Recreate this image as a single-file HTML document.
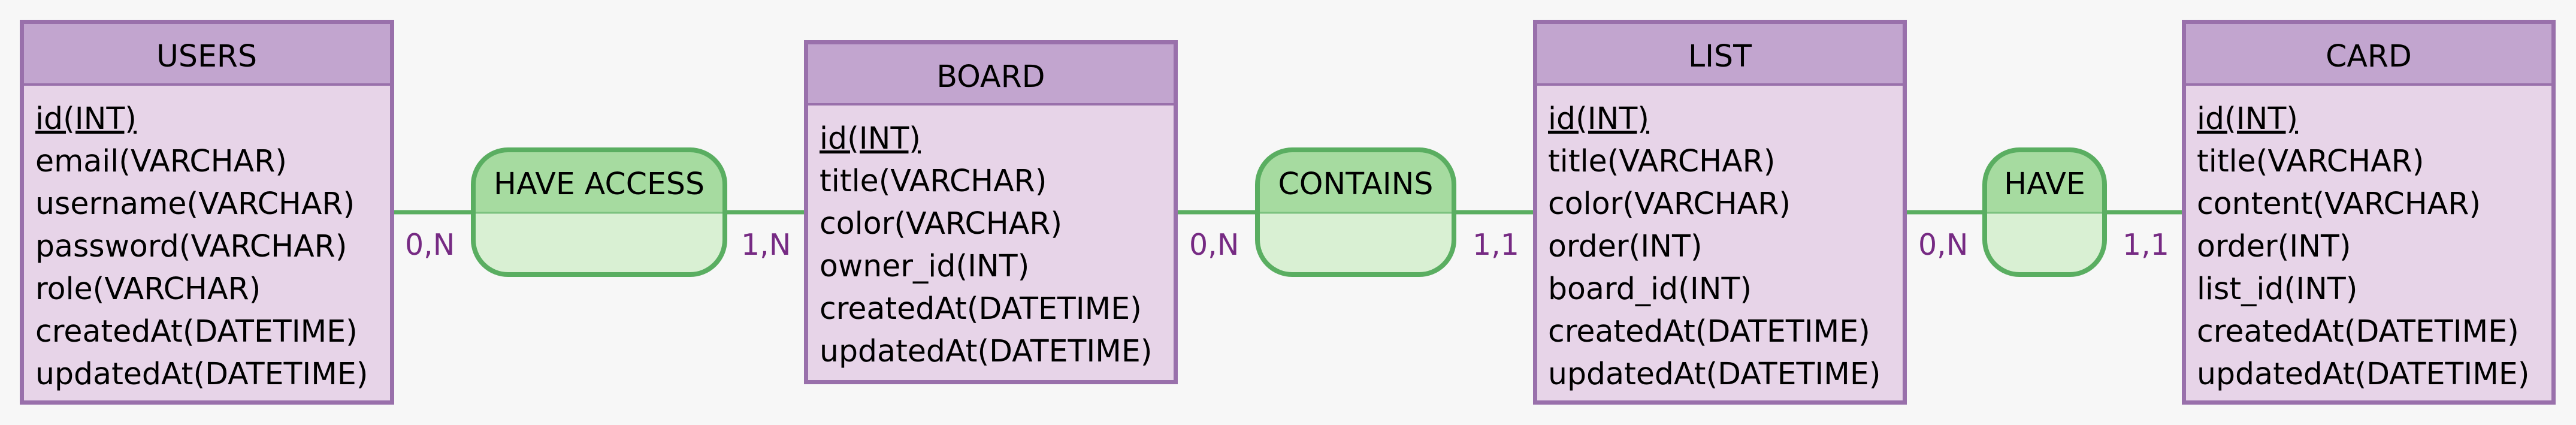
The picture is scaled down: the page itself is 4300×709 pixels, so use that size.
<!DOCTYPE html>
<html><head><meta charset="utf-8"><style>
html,body{margin:0;padding:0;background:#f7f7f7;}
svg{display:block;}
text{font-family:"DejaVu Sans","Liberation Sans",sans-serif;}
</style></head><body>
<svg width="4300" height="709" viewBox="0 0 4300 709" xmlns="http://www.w3.org/2000/svg">
<rect width="4300" height="709" fill="#f7f7f7"/>
<g stroke="#5aae61" stroke-width="7">
<line x1="658" y1="354" x2="790" y2="354"/><line x1="1210" y1="354" x2="1342" y2="354"/>
<line x1="1966" y1="354" x2="2099" y2="354"/><line x1="2427" y1="354" x2="2559" y2="354"/>
<line x1="3183" y1="354" x2="3313" y2="354"/><line x1="3513" y1="354" x2="3642" y2="354"/>
</g>
<g font-size="49" fill="#762a83">
<text x="676" y="425">0,N</text><text x="1237" y="425">1,N</text>
<text x="1985" y="425">0,N</text><text x="2458" y="425">1,1</text>
<text x="3202" y="425">0,N</text><text x="3543" y="425">1,1</text>
</g>
<defs>
<clipPath id="c1"><rect x="790" y="250" width="420" height="208" rx="58"/></clipPath>
<clipPath id="c2"><rect x="2099" y="250" width="328" height="208" rx="58"/></clipPath>
<clipPath id="c3"><rect x="3313" y="250" width="200" height="208" rx="58"/></clipPath>
</defs>
<g>
<g clip-path="url(#c1)"><rect x="780" y="240" width="440" height="115" fill="#a6dba0"/><rect x="780" y="355" width="440" height="110" fill="#d9f0d3"/></g>
<line x1="790" y1="355" x2="1210" y2="355" stroke="#7cc27f" stroke-width="3"/>
<rect x="790" y="250" width="420" height="208" rx="58" fill="none" stroke="#5aae61" stroke-width="8"/>
<text x="1000" y="324" font-size="50.5" text-anchor="middle">HAVE ACCESS</text>
</g>
<g>
<g clip-path="url(#c2)"><rect x="2090" y="240" width="350" height="115" fill="#a6dba0"/><rect x="2090" y="355" width="350" height="110" fill="#d9f0d3"/></g>
<line x1="2099" y1="355" x2="2427" y2="355" stroke="#7cc27f" stroke-width="3"/>
<rect x="2099" y="250" width="328" height="208" rx="58" fill="none" stroke="#5aae61" stroke-width="8"/>
<text x="2263" y="324" font-size="50.5" text-anchor="middle">CONTAINS</text>
</g>
<g>
<g clip-path="url(#c3)"><rect x="3300" y="240" width="220" height="115" fill="#a6dba0"/><rect x="3300" y="355" width="220" height="110" fill="#d9f0d3"/></g>
<line x1="3313" y1="355" x2="3513" y2="355" stroke="#7cc27f" stroke-width="3"/>
<rect x="3313" y="250" width="200" height="208" rx="58" fill="none" stroke="#5aae61" stroke-width="8"/>
<text x="3413" y="324" font-size="50.5" text-anchor="middle">HAVE</text>
</g>
<g font-size="50.5">
<rect x="36.5" y="36.5" width="618" height="635" fill="#e7d4e8"/>
<rect x="36.5" y="36.5" width="618" height="104" fill="#c2a5cf"/>
<line x1="36" y1="141" x2="655" y2="141" stroke="#9970ab" stroke-width="4"/>
<rect x="36.5" y="36.5" width="618" height="635" fill="none" stroke="#9970ab" stroke-width="7"/>
<text x="345" y="111" text-anchor="middle">USERS</text>
<text x="59" y="215" text-decoration="underline">id(INT)</text>
<text x="59" y="286">email(VARCHAR)</text>
<text x="59" y="357">username(VARCHAR)</text>
<text x="59" y="428">password(VARCHAR)</text>
<text x="59" y="499">role(VARCHAR)</text>
<text x="59" y="570">createdAt(DATETIME)</text>
<text x="59" y="641">updatedAt(DATETIME)</text>
</g>
<g font-size="50.5">
<rect x="1345.5" y="70.5" width="617" height="567" fill="#e7d4e8"/>
<rect x="1345.5" y="70.5" width="617" height="104" fill="#c2a5cf"/>
<line x1="1345" y1="174" x2="1963" y2="174" stroke="#9970ab" stroke-width="4"/>
<rect x="1345.5" y="70.5" width="617" height="567" fill="none" stroke="#9970ab" stroke-width="7"/>
<text x="1654" y="145" text-anchor="middle">BOARD</text>
<text x="1368" y="248" text-decoration="underline">id(INT)</text>
<text x="1368" y="319">title(VARCHAR)</text>
<text x="1368" y="390">color(VARCHAR)</text>
<text x="1368" y="461">owner_id(INT)</text>
<text x="1368" y="532">createdAt(DATETIME)</text>
<text x="1368" y="603">updatedAt(DATETIME)</text>
</g>
<g font-size="50.5">
<rect x="2562.5" y="36.5" width="617" height="635" fill="#e7d4e8"/>
<rect x="2562.5" y="36.5" width="617" height="104" fill="#c2a5cf"/>
<line x1="2562" y1="141" x2="3180" y2="141" stroke="#9970ab" stroke-width="4"/>
<rect x="2562.5" y="36.5" width="617" height="635" fill="none" stroke="#9970ab" stroke-width="7"/>
<text x="2871" y="111" text-anchor="middle">LIST</text>
<text x="2584" y="215" text-decoration="underline">id(INT)</text>
<text x="2584" y="286">title(VARCHAR)</text>
<text x="2584" y="357">color(VARCHAR)</text>
<text x="2584" y="428">order(INT)</text>
<text x="2584" y="499">board_id(INT)</text>
<text x="2584" y="570">createdAt(DATETIME)</text>
<text x="2584" y="641">updatedAt(DATETIME)</text>
</g>
<g font-size="50.5">
<rect x="3645.5" y="36.5" width="617" height="635" fill="#e7d4e8"/>
<rect x="3645.5" y="36.5" width="617" height="104" fill="#c2a5cf"/>
<line x1="3645" y1="141" x2="4263" y2="141" stroke="#9970ab" stroke-width="4"/>
<rect x="3645.5" y="36.5" width="617" height="635" fill="none" stroke="#9970ab" stroke-width="7"/>
<text x="3954" y="111" text-anchor="middle">CARD</text>
<text x="3667" y="215" text-decoration="underline">id(INT)</text>
<text x="3667" y="286">title(VARCHAR)</text>
<text x="3667" y="357">content(VARCHAR)</text>
<text x="3667" y="428">order(INT)</text>
<text x="3667" y="499">list_id(INT)</text>
<text x="3667" y="570">createdAt(DATETIME)</text>
<text x="3667" y="641">updatedAt(DATETIME)</text>
</g>
</svg>
</body></html>
